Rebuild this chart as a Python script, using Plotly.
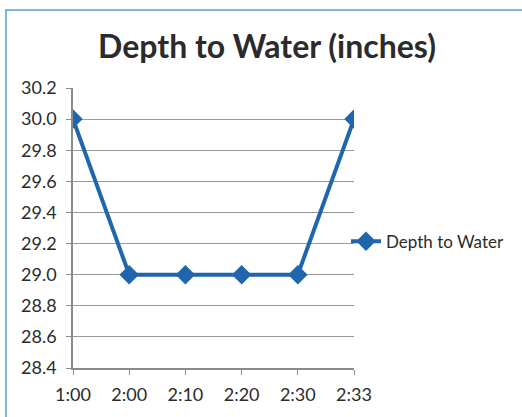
import plotly.graph_objects as go

categories = ["1:00", "2:00", "2:10", "2:20", "2:30", "2:33"]
depth = [30.0, 29.0, 29.0, 29.0, 29.0, 30.0]
y_ticks = [28.4, 28.6, 28.8, 29.0, 29.2, 29.4, 29.6, 29.8, 30.0, 30.2]

W, H = 522, 417
L, R, T, B = 73, 168, 88, 45
pw, ph = W - L - R, H - T - B

def px(x):
    return (x - L) / pw

def py(y):
    return (H - B - y) / ph

blue = "#1f66ad"
fig = go.Figure()
fig.add_trace(go.Scatter(
    x=list(range(len(categories))), y=depth, mode="lines+markers",
    name="Depth to Water",
    line=dict(color=blue, width=4),
    marker=dict(symbol="diamond", size=15, color=blue),
))

fig.update_layout(
    width=W, height=H,
    margin=dict(l=L, r=R, t=T, b=B),
    paper_bgcolor="white", plot_bgcolor="white",
    font=dict(family="Lato, Open Sans, sans-serif", color="#2b2b2b"),
    title=dict(text="<b>Depth to Water (inches)</b>", x=267 / W, xanchor="center",
               y=1 - 47 / H, yanchor="middle", font=dict(size=32, color="#2b2b2b")),
    xaxis=dict(
        range=[0, len(categories) - 1], tickmode="array",
        tickvals=list(range(len(categories))), ticktext=categories,
        showgrid=False, showline=True, linecolor="#8c8c8c", linewidth=1.5,
        ticks="outside", ticklen=5, tickcolor="#8c8c8c",
        tickfont=dict(size=18, color="#2b2b2b"), ticklabelstandoff=5,
        zeroline=False, fixedrange=True,
    ),
    yaxis=dict(
        range=[28.4, 30.2], tickmode="array", tickvals=y_ticks,
        ticktext=[f"{v:.1f}" for v in y_ticks],
        showgrid=True, gridcolor="#9a9a9a", gridwidth=1,
        showline=True, linecolor="#8c8c8c", linewidth=1.5,
        ticks="outside", ticklen=5, tickcolor="#8c8c8c",
        tickfont=dict(size=18, color="#2b2b2b"), ticklabelstandoff=6,
        zeroline=False, fixedrange=True,
    ),
    showlegend=True,
    legend=dict(x=px(346), y=py(244), xanchor="left", yanchor="middle",
                font=dict(size=17, color="#2b2b2b"), bgcolor="rgba(0,0,0,0)",
                itemwidth=30),
)

fig.add_shape(type="rect", xref="paper", yref="paper",
              x0=px(6), x1=px(540), y0=py(430), y1=py(9),
              line=dict(color="#5b9bd5", width=1.5), layer="below")

fig.write_html("out.html")
